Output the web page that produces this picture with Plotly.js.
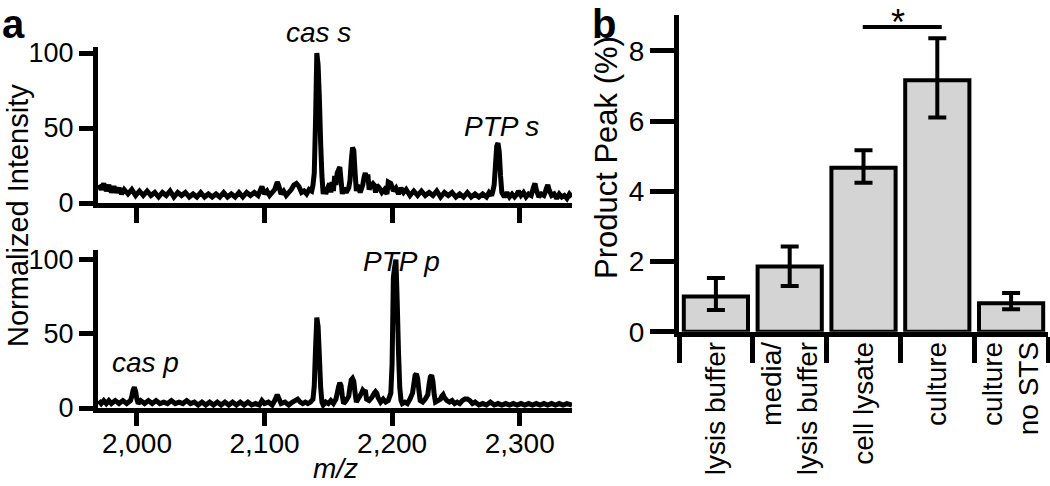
<!DOCTYPE html>
<html>
<head>
<meta charset="utf-8">
<script src="https://cdn.plot.ly/plotly-3.0.1.min.js"></script>
<style>
  html, body { margin: 0; padding: 0; background: #ffffff; }
  #chart { width: 1050px; height: 486px; }
</style>
</head>
<body>
<div id="chart"></div>
<script>
// ---------- Panel a, top spectrum (substrate) ----------
const mzTop = [1970,1972,1974,1976,1978,1980,1982,1984,1986,1988,1990,1993,1996,1999,2002,2005,2008,2011,2014,2017,2020,2023,2026,2029,2032,2035,2038,2041,2044,2047,2050,2053,2056,2059,2062,2065,2068,2071,2074,2077,2080,2083,2086,2089,2092,2095,2097,2098,2100,2102,2104,2106,2108,2110,2111,2113,2115,2117,2119,2121,2123,2125,2127,2129,2131,2133,2135,2137,2138,2139,2140,2141,2142,2143,2144,2145,2146,2147,2148,2149,2151,2152,2153,2154,2155,2156,2157,2158,2159,2160,2161,2162,2164,2166,2167,2168,2169,2170,2171,2172,2173,2175,2177,2178,2179,2180,2181,2182,2183,2185,2186,2187,2188,2190,2192,2194,2196,2197,2199,2201,2203,2205,2207,2209,2211,2214,2217,2220,2223,2226,2229,2232,2235,2238,2241,2244,2247,2250,2253,2256,2259,2262,2265,2268,2271,2274,2276,2278,2279,2280,2281,2282,2283,2284,2285,2286,2288,2290,2292,2294,2296,2298,2299,2301,2303,2305,2307,2309,2310,2311,2312,2313,2315,2317,2319,2320,2321,2322,2323,2325,2327,2329,2331,2333,2335,2337,2339,2341];
const intTop = [12,9,13,8,12,7,11,7,10,6,9,6,9,5,8,5,8,5,7,4,7,5,8,4,7,5,7,4,6,4,7,4,6,4,6,4,7,4,6,4,7,4,7,5,7,5,9,11,6,8,5,7,9,14,12,6,8,5,7,9,12,13,11,7,8,6,9,8,12,20,55,100,92,70,40,18,6,10,6,9,13,7,14,8,18,12,20,22,24,15,6,10,7,10,15,28,37,35,20,8,12,7,12,17,20,15,19,9,11,13,12,7,12,10,7,9,6,14,13,8,10,6,10,7,9,5,8,5,8,5,7,5,8,4,7,5,7,4,6,4,7,4,6,4,6,4,7,5,8,12,25,38,40,34,18,7,4,7,4,6,4,6,8,5,7,4,6,5,8,11,13,9,4,6,5,7,10,12,9,5,6,3,6,4,5,3,6,4,7];

// ---------- Panel a, bottom spectrum (product) ----------
const mzBot = [1970,1972,1974,1976,1978,1980,1983,1986,1989,1992,1995,1996,1997,1998,1999,2000,2001,2003,2006,2009,2012,2015,2018,2021,2024,2027,2030,2033,2036,2039,2042,2045,2048,2051,2054,2057,2060,2063,2066,2069,2072,2075,2078,2081,2084,2087,2090,2093,2096,2098,2100,2103,2106,2108,2110,2111,2113,2116,2119,2122,2124,2126,2128,2130,2132,2134,2136,2138,2139,2140,2141,2142,2143,2144,2145,2146,2148,2150,2152,2154,2156,2157,2158,2159,2160,2161,2162,2164,2166,2167,2168,2169,2170,2171,2172,2174,2176,2177,2178,2179,2180,2182,2184,2186,2187,2188,2189,2191,2193,2195,2197,2199,2200,2201,2202,2203,2204,2205,2206,2207,2208,2210,2212,2214,2216,2217,2218,2219,2220,2221,2222,2224,2226,2228,2229,2230,2231,2232,2233,2234,2236,2238,2239,2240,2241,2243,2245,2247,2249,2251,2253,2255,2257,2259,2261,2263,2265,2268,2271,2274,2277,2280,2283,2286,2289,2292,2295,2298,2301,2304,2307,2310,2313,2316,2319,2322,2325,2328,2331,2334,2337,2341];
const intBot = [5,3,5,3,5,3,5,3,5,3,5,8,12,14,11,6,3,5,3,5,3,5,3,4,3,5,3,4,3,5,3,4,2,4,2,4,2,4,2,4,2,4,2,4,2,4,2,3,2,5,3,4,2,5,9,7,3,4,2,4,5,6,4,3,4,3,4,6,15,40,61,55,35,14,4,2,4,3,5,3,6,10,14,17,15,8,3,5,8,14,19,20,18,10,4,7,10,12,11,12,6,5,7,10,11,10,7,4,6,4,5,10,30,88,95,100,72,38,14,5,3,4,3,6,10,16,22,23,20,12,5,4,6,9,16,21,22,18,9,4,5,6,8,9,7,5,4,5,3,4,3,5,6,6,5,3,4,2,3,2,4,2,3,2,3,2,3,2,3,2,3,2,3,2,3,2,3,2,3,2,3,2];

const mzTickVals = [2000, 2100, 2200, 2300];
const mzTickText = ["2,000", "2,100", "2,200", "2,300"];
const intTickVals = [0, 50, 100];

// ---------- Panel b ----------
const categories = ["lysis buffer", "media/<br>lysis buffer", "cell lysate", "culture", "culture<br>no STS"];
const productPeak = [1.0, 1.86, 4.67, 7.16, 0.81];
const errPlus = [0.53, 0.57, 0.50, 1.20, 0.29];
const errMinus = [0.38, 0.56, 0.43, 1.06, 0.17];
const peakTickVals = [0, 2, 4, 6, 8];

const FONT = "Liberation Sans, Arial, sans-serif";
const W = 1050, H = 486;
const px = v => v / W;
const py = v => 1 - v / H;

const traces = [
  { x: mzTop, y: intTop, type: "scatter", mode: "lines", xaxis: "x", yaxis: "y",
    line: { color: "#000", width: 5, simplify: false }, hoverinfo: "skip" },
  { x: mzBot, y: intBot, type: "scatter", mode: "lines", xaxis: "x2", yaxis: "y2",
    line: { color: "#000", width: 5, simplify: false }, hoverinfo: "skip" },
  { x: categories, y: productPeak, type: "bar", xaxis: "x3", yaxis: "y3",
    marker: { color: "#d4d4d4", line: { color: "#000", width: 4 } },
    error_y: { type: "data", symmetric: false, array: errPlus, arrayminus: errMinus,
               color: "#000", thickness: 4, width: 9 },
    hoverinfo: "skip" }
];

const axA = {
  showgrid: false, zeroline: false, showline: true, linecolor: "#000", linewidth: 5,
  ticks: "outside", tickcolor: "#000", tickwidth: 5,
  tickfont: { family: FONT, size: 27, color: "#000" }
};

const txt = (size) => ({ family: FONT, size: size, color: "#000" });

const layout = {
  width: W, height: H,
  margin: { l: 0, r: 0, t: 0, b: 0 },
  paper_bgcolor: "#fff", plot_bgcolor: "#fff",
  showlegend: false,
  font: { family: FONT, color: "#000" },
  bargap: 0.13,
  xaxis: Object.assign({}, axA, { domain: [px(98), px(572)], range: [1969.5, 2341], anchor: "y",
    tickvals: mzTickVals, ticktext: mzTickText, showticklabels: false, ticklen: 15 }),
  yaxis: Object.assign({}, axA, { domain: [py(203), py(47)], range: [0, 104], anchor: "x",
    tickvals: intTickVals, ticklen: 14 }),
  xaxis2: Object.assign({}, axA, { domain: [px(98), px(572)], range: [1969.5, 2341], anchor: "y2",
    tickvals: mzTickVals, ticktext: mzTickText, ticklen: 13, ticklabelstandoff: -7, tickfont: txt(28) }),
  yaxis2: Object.assign({}, axA, { domain: [py(408), py(250)], range: [0, 106.5], anchor: "x2",
    tickvals: intTickVals, ticklen: 14 }),
  xaxis3: Object.assign({}, axA, { domain: [px(679), px(1048)], anchor: "y3",
    type: "category", tickson: "boundaries", ticklen: 26, tickangle: -90,
    ticklabelstandoff: -6, tickfont: txt(28) }),
  yaxis3: Object.assign({}, axA, { domain: [py(331.7), py(15)], range: [0, 9.02], anchor: "x3",
    tickvals: peakTickVals, ticklen: 24, tickfont: txt(28) }),
  shapes: [
    { type: "line", xref: "x3", yref: "y3", x0: 1.99, x1: 3.06, y0: 8.68, y1: 8.68,
      line: { color: "#000", width: 4 } }
  ],
  annotations: [
    { text: "<b>a</b>", xref: "paper", yref: "paper", x: px(13), y: 1, showarrow: false,
      font: txt(40), xanchor: "center", yanchor: "top" },
    { text: "<b>b</b>", xref: "paper", yref: "paper", x: px(604), y: 1, showarrow: false,
      font: txt(40), xanchor: "center", yanchor: "top" },
    { text: "Normalized Intensity", xref: "paper", yref: "paper", x: px(18), y: py(216),
      textangle: -90, showarrow: false, xanchor: "center", yanchor: "middle",
      font: txt(29) },
    { text: "<i>m/z</i>", xref: "paper", yref: "paper", x: px(335), y: 0,
      showarrow: false, xanchor: "center", yanchor: "bottom", font: txt(28) },
    { text: "Product Peak (%)", xref: "paper", yref: "paper", x: px(607), y: py(158),
      textangle: -90, showarrow: false, xanchor: "center", yanchor: "middle",
      font: txt(31) },
    { text: "<i>cas s</i>", xref: "paper", yref: "paper", x: px(318), y: py(32), showarrow: false,
      xanchor: "center", yanchor: "middle", font: txt(28) },
    { text: "<i>PTP s</i>", xref: "x", yref: "y", x: 2286, y: 51, showarrow: false,
      xanchor: "center", yanchor: "middle", font: txt(28) },
    { text: "<i>PTP p</i>", xref: "x2", yref: "y2", x: 2207, y: 99, showarrow: false,
      xanchor: "center", yanchor: "middle", font: txt(28) },
    { text: "<i>cas p</i>", xref: "x2", yref: "y2", x: 2007, y: 31, showarrow: false,
      xanchor: "center", yanchor: "middle", font: txt(28) },
    { text: "*", xref: "paper", yref: "paper", x: px(898), y: py(22), showarrow: false,
      xanchor: "center", yanchor: "middle", font: txt(36) }
  ]
};

Plotly.newPlot("chart", traces, layout, { staticPlot: true, displayModeBar: false });
</script>
</body>
</html>
